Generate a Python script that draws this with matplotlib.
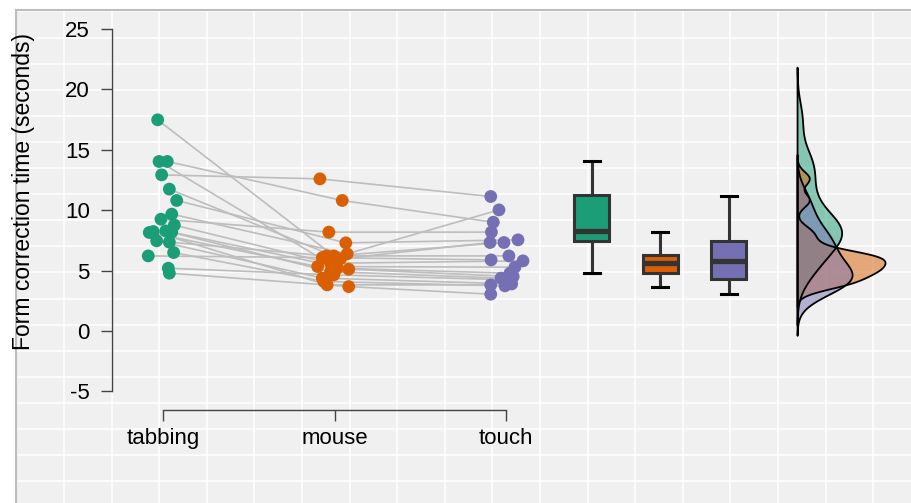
import numpy as np
import matplotlib
matplotlib.use("Agg")
import matplotlib.pyplot as plt

plt.rcParams["font.family"] = ["Liberation Sans", "DejaVu Sans"]
plt.rcParams["axes.unicode_minus"] = False

# data: one entry per participant, same order in every list
groups = ["tabbing", "mouse", "touch"]
colors = ["#1b9e77", "#d95f02", "#7570b3"]

tabbing = [17.48, 14.03, 14.03, 12.92, 11.74, 10.80, 9.67, 9.25, 8.76, 8.15,
           8.23, 8.28, 8.18, 7.46, 7.35, 6.49, 6.21, 5.19, 4.78]
mouse = [6.21, 5.19, 10.80, 12.59, 5.97, 7.29, 6.38, 8.18, 5.60, 5.33,
         3.81, 4.91, 5.11, 4.37, 6.21, 4.09, 6.07, 4.64, 3.67]
touch = [7.32, 4.78, 9.00, 11.13, 7.32, 7.54, 10.02, 8.18, 5.80, 5.28,
         3.81, 4.37, 4.50, 3.89, 6.21, 3.73, 5.88, 4.23, 3.04]

# horizontal jitter
tab_jit = [-0.031, -0.023, 0.025, -0.008, 0.037, 0.080, 0.051, -0.012, 0.066, -0.080,
           -0.057, 0.016, 0.051, -0.037, 0.037, 0.062, -0.086, 0.031, 0.037]
mouse_jit = [-0.004, 0.016, 0.045, -0.085, 0.035, 0.066, 0.074, -0.033, -0.023, -0.098,
             -0.043, -0.023, 0.083, -0.071, -0.047, -0.062, -0.071, -0.004, 0.083]
touch_jit = [-0.012, 0.023, -0.074, -0.089, -0.093, 0.070, -0.041, -0.085, 0.099, 0.052,
             -0.089, -0.029, 0.042, 0.033, 0.017, -0.006, -0.087, 0.013, -0.089]

values = [np.array(tabbing), np.array(mouse), np.array(touch)]
jitters = [np.array(tab_jit), np.array(mouse_jit), np.array(touch_jit)]

W, H = 911, 503
fig = plt.figure(figsize=(W / 100, H / 100), dpi=100)

# grey background with white grid over the whole figure
bg = fig.add_axes([16 / W, 0, (W - 16) / W, (H - 10) / H])
bg.set_xlim(16, W)
bg.set_ylim(H, 10)
bg.set_facecolor("#f0f0f0")
for gx in np.arange(64, W, 47.6):
    bg.axvline(gx, color="white", lw=1.1)
for gy in np.arange(11.4, H, 26.1):
    bg.axhline(gy, color="white", lw=1.1)
bg.set_xticks([])
bg.set_yticks([])
for side in ["right", "bottom"]:
    bg.spines[side].set_visible(False)
for side in ["top", "left"]:
    bg.spines[side].set_color("#bdbdbd")
    bg.spines[side].set_linewidth(1.5)

# main panel, pixel box: x 112..905, y 29..410
px_per_x = 171.5
left_px, right_px, top_px, bot_px = 112, 905, 29, 410
ax = fig.add_axes([left_px / W, 1 - bot_px / H,
                   (right_px - left_px) / W, (bot_px - top_px) / H])
ax.patch.set_alpha(0)
ax.set_xlim(1 - (163 - left_px) / px_per_x, 1 + (right_px - 163) / px_per_x)
ax.set_ylim(-6.55, 25)

xs = np.arange(1, 4)

# connecting lines
for i in range(len(tabbing)):
    ax.plot([xs[g] + jitters[g][i] for g in range(3)],
            [values[g][i] for g in range(3)],
            color="#bdbdbd", lw=1.2, zorder=2)

# points
for g in range(3):
    ax.scatter(xs[g] + jitters[g], values[g], s=85, color=colors[g],
               edgecolors="none", zorder=3)

# boxplots
box_pos = [3.5, 3.9, 4.3]
bp = ax.boxplot(values, positions=box_pos, widths=0.204, showfliers=False,
                patch_artist=True, capwidths=0.093, manage_ticks=False,
                boxprops=dict(edgecolor="#333333", linewidth=2.2),
                whiskerprops=dict(color="#333333", linewidth=2.2),
                capprops=dict(color="black", linewidth=2.2),
                medianprops=dict(color="#333333", linewidth=3.8))
for patch, c in zip(bp["boxes"], colors):
    patch.set_facecolor(c)
for artist in bp["boxes"] + bp["whiskers"] + bp["caps"] + bp["medians"]:
    artist.set_zorder(3)


# densities, gaussian kernel with R's nrd0 bandwidth
def kde(v):
    q75, q25 = np.percentile(v, [75, 25])
    bw = 0.9 * min(v.std(ddof=1), (q75 - q25) / 1.34) * len(v) ** -0.2
    grid = np.linspace(v.min() - 3 * bw, v.max() + 3 * bw, 512)
    d = np.exp(-0.5 * ((grid[:, None] - v[None, :]) / bw) ** 2).sum(axis=1)
    d /= len(v) * bw * np.sqrt(2 * np.pi)
    return grid, d


dens = [kde(v) for v in values]
dmax = max(d.max() for _, d in dens)
base = 4.70
scale = 0.513 / dmax
for (grid, d), c in zip(dens, colors):
    ax.fill_betweenx(grid, base, base + d * scale, facecolor=c, alpha=0.5,
                     edgecolor="none", zorder=3)
    ax.fill_betweenx(grid, base, base + d * scale, facecolor="none",
                     edgecolor="black", lw=1.3, zorder=4)

# axes styling
for side in ["top", "right"]:
    ax.spines[side].set_visible(False)
ax.spines["left"].set_bounds(-5, 25)
ax.spines["bottom"].set_bounds(1, 3)
for side in ["left", "bottom"]:
    ax.spines[side].set_color("#444444")
    ax.spines[side].set_linewidth(1.0)
ax.set_yticks(np.arange(-5, 26, 5))
ax.set_xticks(xs)
ax.set_xticklabels(groups)
ax.tick_params(axis="both", length=8, width=1.0, color="#444444",
               labelsize=16, labelcolor="black")
ax.tick_params(axis="y", pad=8)
ax.tick_params(axis="x", pad=5)

fig.text(24 / W, 1 - 192 / H, "Form correction time (seconds)", rotation=90,
         ha="center", va="center", fontsize=16.5)

fig.savefig("out.png", dpi=100)
